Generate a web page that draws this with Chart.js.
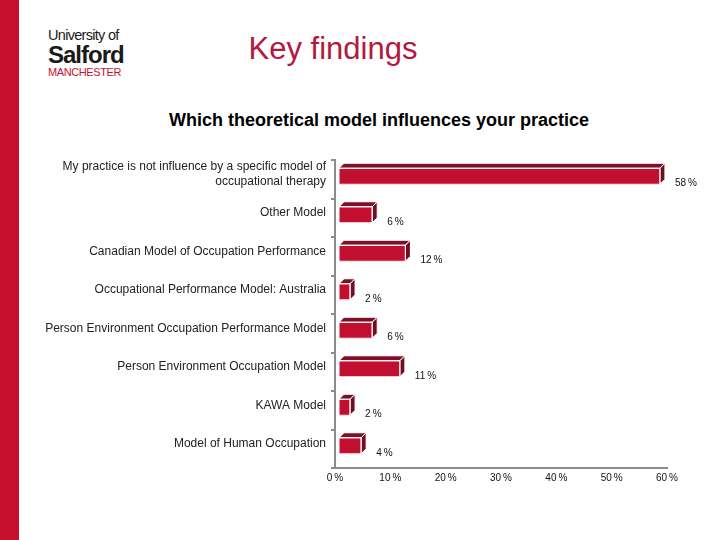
<!DOCTYPE html>
<html>
<head>
<meta charset="utf-8">
<script src="https://cdn.jsdelivr.net/npm/chart.js@4/dist/chart.umd.min.js"></script>
<style>
  html, body { margin:0; padding:0; background:#fff; }
  body { width:720px; height:540px; position:relative; overflow:hidden; font-family:"Liberation Sans", Arial, sans-serif; }
  .stripe { position:absolute; left:0; top:0; width:19px; height:540px; background:#c8102e; }
  .logo { position:absolute; left:48px; top:28px; line-height:1; color:#1a1a1a; }
  .logo .u { font-size:14.5px; letter-spacing:-0.7px; }
  .logo .s { font-size:24px; font-weight:bold; letter-spacing:-1px; margin-top:0px; }
  .logo .m { font-size:11px; color:#c8102e; letter-spacing:-0.4px; margin-top:0px; }
  .title { position:absolute; left:0; width:666px; top:31px; text-align:center; font-size:31px; color:#b5173f; }
  .sub { position:absolute; left:0; width:758px; top:110px; text-align:center; font-size:18px; font-weight:bold; color:#000; }
  canvas { position:absolute; left:0; top:0; }
</style>
</head>
<body>
<div class="stripe"></div>
<div class="logo"><div class="u">University of</div><div class="s">Salford</div><div class="m">MANCHESTER</div></div>
<div class="title">Key findings</div>
<div class="sub">Which theoretical model influences your practice</div>
<canvas id="c" width="720" height="540"></canvas>
<script>
// 資料
const categories = [
  ["My practice is not influence by a specific model of", "occupational therapy"],
  "Other Model",
  "Canadian Model of Occupation Performance",
  "Occupational Performance Model: Australia",
  "Person Environment Occupation Performance Model",
  "Person Environment Occupation Model",
  "KAWA Model",
  "Model of Human Occupation"
];
const percents = [58, 6, 12, 2, 6, 11, 2, 4];
const tickLabels = ["0%", "10%", "20%", "30%", "40%", "50%", "60%"];

const FRONT = "#c20f30", SIDE = "#6e0e22", TOP = "#7d1026";
const pct = (s) => s.replace("%", "\u2009%");

// 3D 盒子 + 數值標籤
const bar3d = {
  id: "bar3d",
  beforeDatasetsDraw(chart) {
    chart.ctx.save();
    chart.ctx.translate(4, -3);
  },
  afterDatasetsDraw(chart) {
    const ctx = chart.ctx;
    const d = 5;
    chart.getDatasetMeta(0).data.forEach((el, i) => {
      const x0 = el.base, x1 = el.x, h = el.height;
      const y0 = el.y - h / 2, y1 = el.y + h / 2;
      ctx.lineWidth = 1;
      ctx.strokeStyle = "#fff";
      // top face
      ctx.beginPath();
      ctx.moveTo(x0, y0); ctx.lineTo(x0 + d, y0 - d); ctx.lineTo(x1 + d, y0 - d); ctx.lineTo(x1, y0); ctx.closePath();
      ctx.fillStyle = TOP; ctx.fill(); ctx.stroke();
      // side face
      ctx.beginPath();
      ctx.moveTo(x1, y0); ctx.lineTo(x1 + d, y0 - d); ctx.lineTo(x1 + d, y1 - d); ctx.lineTo(x1, y1); ctx.closePath();
      ctx.fillStyle = SIDE; ctx.fill(); ctx.stroke();
      // front outline
      ctx.strokeRect(x0, y0, x1 - x0, h);
      // label
      ctx.fillStyle = "#111";
      ctx.font = "10px 'Liberation Sans', Arial, sans-serif";
      ctx.textAlign = "left";
      ctx.textBaseline = "middle";
      ctx.fillText(pct(percents[i] + "%"), x1 + 15, el.y + 7);
    });
    ctx.restore();
  }
};

new Chart(document.getElementById("c"), {
  type: "bar",
  data: {
    labels: categories,
    datasets: [{ data: percents, backgroundColor: FRONT, borderWidth: 0, barThickness: 16 }]
  },
  options: {
    indexAxis: "y",
    responsive: false,
    animation: false,
    layout: { padding: { top: 160, right: 53, left: 0, bottom: 0 } },
    plugins: { legend: { display: false }, tooltip: { enabled: false } },
    scales: {
      x: {
        min: 0, max: 60,
        afterFit: (s) => { s.height = 72; },
        grid: { display: false, drawTicks: false },
        border: { color: "#8c8c8c", width: 2 },
        ticks: {
          stepSize: 10, padding: 4, color: "#111",
          font: { size: 10, family: "'Liberation Sans', Arial, sans-serif" },
          callback: (v, i) => pct(tickLabels[i])
        }
      },
      y: {
        afterFit: (s) => { s.width = 335; },
        grid: { display: true, drawOnChartArea: false, offset: true, tickLength: 4, color: "#8c8c8c", lineWidth: 2 },
        border: { color: "#8c8c8c", width: 2 },
        ticks: {
          padding: 5, color: "#222", labelOffset: -5,
          font: { size: 12, family: "'Liberation Sans', Arial, sans-serif" }
        }
      }
    }
  },
  plugins: [bar3d]
});
</script>
</body>
</html>
